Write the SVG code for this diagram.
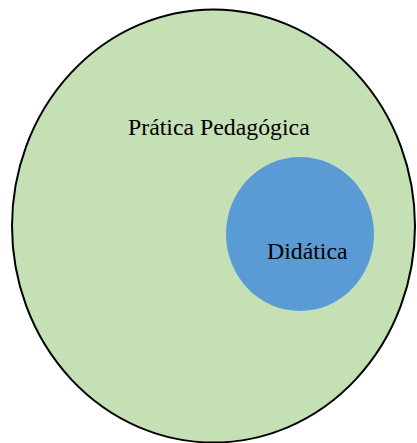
<svg xmlns="http://www.w3.org/2000/svg" width="417" height="443" viewBox="0 0 417 443">
<style>
text{font-family:"Liberation Serif","Times New Roman",serif;font-size:23.8px;fill:#000}
</style>
<rect width="417" height="443" fill="#fff"/>
<g id="pratica">
<ellipse cx="213.5" cy="226" rx="201.5" ry="216.5" fill="#C5E0B4" stroke="#000" stroke-width="2"/>
<text x="128" y="135">Prática Pedagógica</text>
</g>
<g id="didatica">
<ellipse cx="300" cy="234" rx="74" ry="77" fill="#5B9BD5"/>
<text x="267" y="259">Didática</text>
</g>
<g id="connectors"></g>
</svg>
